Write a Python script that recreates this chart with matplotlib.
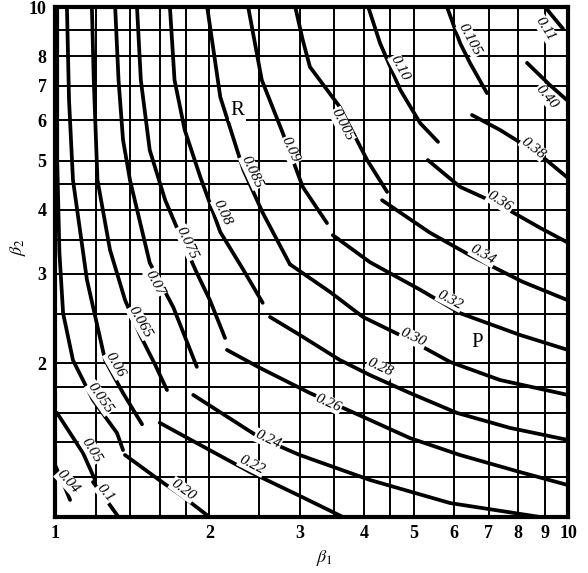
import matplotlib
matplotlib.use("Agg")
import matplotlib.pyplot as plt
import numpy as np

# grid lines on both log axes
grid_vals = [1, 1.2, 1.4, 1.6, 1.8, 2, 2.5, 3, 3.5, 4, 4.5, 5, 6, 7, 8, 9, 10]
x_labels = {1: "1", 2: "2", 3: "3", 4: "4", 5: "5", 6: "6", 7: "7", 8: "8", 9: "9", 10: "10"}
y_labels = {2: "2", 3: "3", 4: "4", 5: "5", 6: "6", 7: "7", 8: "8", 10: "10"}

# R region curves (beta1, beta2)
r_040 = [(1.0, 1.265), (1.037, 1.166), (1.07, 1.08)]
r_050 = [(1.009, 1.60), (1.07, 1.461), (1.134, 1.335), (1.197, 1.182)]
r_055 = [(1.01, 10), (1.01, 5.0), (1.02, 3.3), (1.037, 2.51), (1.084, 2.03),
         (1.186, 1.696), (1.321, 1.461), (1.357, 1.353)]
r_060 = [(1.055, 10), (1.065, 6.57), (1.084, 4.58), (1.154, 2.92), (1.252, 2.03),
         (1.357, 1.75), (1.478, 1.52)]
r_065 = [(1.18, 10), (1.19, 7.19), (1.21, 4.58), (1.28, 3.34), (1.37, 2.66),
         (1.465, 2.275), (1.567, 1.99), (1.653, 1.774)]
r_070 = [(1.31, 10), (1.33, 7.19), (1.357, 5.49), (1.40, 4.58), (1.53, 3.15),
         (1.70, 2.58), (1.89, 1.97)]
r_075 = [(1.445, 10), (1.47, 7.19), (1.53, 5.24), (1.64, 4.18), (1.77, 3.49),
         (1.89, 3.01), (2.005, 2.66), (2.145, 2.244)]
r_080 = [(1.675, 10), (1.71, 7.19), (1.79, 5.74), (1.92, 4.64), (2.10, 3.62),
         (2.33, 3.05), (2.54, 2.63)]
r_085 = [(1.98, 10), (2.10, 6.66), (2.33, 4.79), (2.54, 3.95), (2.87, 3.13)]
r_090 = [(2.38, 10), (2.53, 7.19), (2.78, 5.66), (3.04, 4.44), (3.39, 3.77)]
r_095 = [(2.94, 10), (3.04, 8.62), (3.14, 7.63), (3.59, 6.37), (4.06, 5.01), (4.44, 4.34)]
r_100 = [(4.08, 10), (4.30, 8.50), (4.71, 6.88), (5.15, 5.92), (5.58, 5.44)]
r_105 = [(5.81, 10), (6.16, 8.50), (6.44, 7.77), (6.95, 6.78)]
r_110 = [(9.02, 10), (9.78, 9.06)]

# P region curves
p_018 = [(1.186, 1.171), (1.25, 1.09), (1.33, 1.0)]
p_020 = [(1.369, 1.323), (1.60, 1.18), (1.79, 1.09), (2.0, 1.0)]
p_022 = [(1.60, 1.53), (1.92, 1.384), (2.40, 1.225), (3.0, 1.10), (3.64, 1.0)]
p_024 = [(1.86, 1.735), (2.51, 1.43), (3.0, 1.323), (4.11, 1.182), (5.89, 1.065), (8.82, 1.0)]
p_026 = [(2.164, 2.126), (2.51, 1.96), (3.14, 1.75), (4.11, 1.55), (4.92, 1.428),
         (6.16, 1.323), (8.06, 1.225), (10, 1.155)]
p_028 = [(2.625, 2.467), (3.0, 2.275), (3.59, 2.032), (4.11, 1.898), (4.92, 1.75),
         (6.075, 1.60), (7.71, 1.495), (10, 1.416)]
p_030 = [(2.87, 3.13), (3.44, 2.76), (3.985, 2.467), (4.92, 2.224), (5.89, 2.014),
         (7.37, 1.856), (10, 1.735)]
p_032 = [(3.48, 3.57), (4.11, 3.16), (5.15, 2.79), (6.16, 2.51), (8.06, 2.275), (10, 2.126)]
p_034 = [(4.34, 4.18), (5.38, 3.61), (6.44, 3.26), (8.17, 2.89), (10, 2.66)]
p_036 = [(5.33, 5.01), (6.16, 4.44), (7.37, 4.09), (8.82, 3.69), (10, 3.45)]
p_038 = [(6.50, 6.14), (7.37, 5.74), (8.82, 5.13), (10, 4.62)]
p_040 = [(8.32, 7.77), (9.22, 7.03), (10, 6.54)]

curves = [r_040, r_050, r_055, r_060, r_065, r_070, r_075, r_080, r_085, r_090,
          r_095, r_100, r_105, r_110, p_018, p_020, p_022, p_024, p_026, p_028,
          p_030, p_032, p_034, p_036, p_038, p_040]

# curve labels: text, beta1, beta2, rotation
label_text = ["0.11", "0.105", "0.10", "0.005", "0.09", "0.085", "0.08", "0.075",
              "0.07", "0.065", "0.06", "0.055", "0.05", "0.04", "0.1",
              "0.20", "0.22", "0.24", "0.26", "0.28", "0.30", "0.32", "0.34",
              "0.36", "0.38", "0.40"]
label_b1 = [9.02, 6.44, 4.705, 3.63, 2.87, 2.42, 2.12, 1.81, 1.567, 1.465, 1.31,
            1.224, 1.18, 1.06, 1.252, 1.776, 2.42, 2.60, 3.41, 4.30, 4.99, 5.89,
            6.83, 7.37, 8.55, 9.10]
label_b2 = [9.06, 8.62, 7.59, 5.87, 5.24, 4.75, 3.96, 3.45, 2.88, 2.41, 1.986,
            1.71, 1.353, 1.171, 1.115, 1.13, 1.265, 1.416, 1.673, 1.96, 2.244,
            2.664, 3.264, 4.15, 5.29, 6.66]
label_rot = [-58, -62, -62, -63, -65, -65, -65, -65, -62, -60, -60, -55, -58, -48,
             -50, -36, -27, -25, -24, -25, -25, -28, -30, -33, -38, -50]

plt.rcParams["mathtext.fontset"] = "stix"

fig = plt.figure(figsize=(5.88, 5.73), dpi=100)
ax = fig.add_axes([55 / 588, 1 - 517 / 573, 513 / 588, 510 / 573])
ax.set_xscale("log")
ax.set_yscale("log")
ax.set_xlim(1, 10)
ax.set_ylim(1, 10)

ax.set_xticks(grid_vals)
ax.set_xticklabels([x_labels.get(v, "") for v in grid_vals])
ax.set_yticks(grid_vals)
ax.set_yticklabels([y_labels.get(v, "") for v in grid_vals])
ax.minorticks_off()
ax.tick_params(length=0, labelsize=13, pad=6)
for t in ax.get_xticklabels() + ax.get_yticklabels():
    t.set_family("Liberation Serif")
    t.set_fontweight("bold")
ax.grid(True, color="black", lw=1.4)
for s in ax.spines.values():
    s.set_linewidth(3)

for c in curves:
    pts = np.array(c)
    ax.plot(pts[:, 0], pts[:, 1], color="black", lw=2.7, solid_capstyle="round",
            solid_joinstyle="round", zorder=3)

for s, x, y, r in zip(label_text, label_b1, label_b2, label_rot):
    ax.text(x, y, s, rotation=r, ha="center", va="center", fontsize=11,
            family="Liberation Serif", style="italic", zorder=4,
            bbox=dict(fc="white", ec="none", pad=0.6))

ax.text(2.27, 6.28, "R", fontsize=15, family="Liberation Serif", ha="center",
        va="center", zorder=4, bbox=dict(fc="white", ec="none", pad=1))
ax.text(6.65, 2.20, "P", fontsize=15, family="Liberation Serif", ha="center",
        va="center", zorder=4, bbox=dict(fc="white", ec="none", pad=1))

ax.set_xlabel(r"$\beta_1$", fontsize=13, va="center")
ax.set_ylabel(r"$\beta_2$", fontsize=13, va="center")
ax.xaxis.set_label_coords(0.526, -0.08)
ax.yaxis.set_label_coords(-0.072, 0.53)

fig.savefig("out.png", dpi=100)
